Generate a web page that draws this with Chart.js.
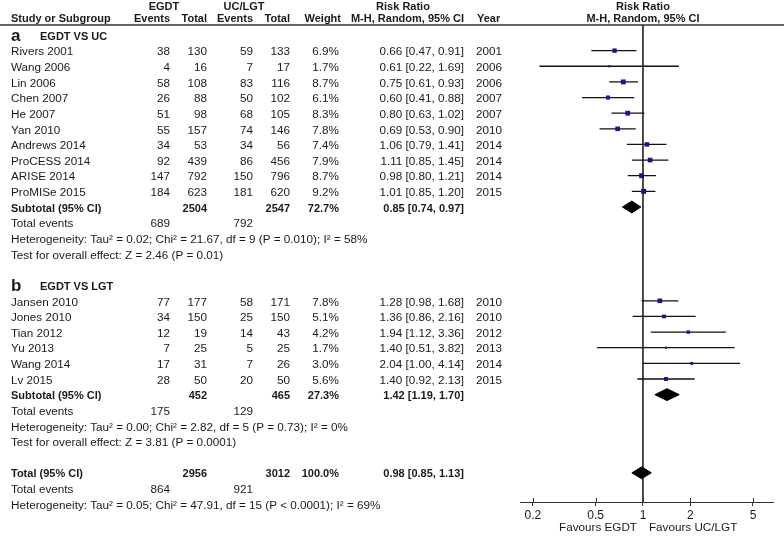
<!DOCTYPE html>
<html>
<head>
<meta charset="utf-8">
<script src="https://cdn.jsdelivr.net/npm/chart.js@4.4.1/dist/chart.umd.min.js"></script>
<style>
  html, body { margin: 0; padding: 0; background: #fff; }
  #wrap { position: relative; width: 784px; height: 536px; }
</style>
</head>
<body>
<div id="wrap"><canvas id="forest"></canvas></div>
<script>
// subgroup a: EGDT vs usual care
const studyA = ["Rivers 2001", "Wang 2006", "Lin 2006", "Chen 2007", "He 2007", "Yan 2010", "Andrews 2014", "ProCESS 2014", "ARISE 2014", "ProMISe 2015"];
const eventsA = [38, 4, 58, 26, 51, 55, 34, 92, 147, 184];
const totalA = [130, 16, 108, 88, 98, 157, 53, 439, 792, 623];
const ctrlEventsA = [59, 7, 83, 50, 68, 74, 34, 86, 150, 181];
const ctrlTotalA = [133, 17, 116, 102, 105, 146, 56, 456, 796, 620];
const weightA = [6.9, 1.7, 8.7, 6.1, 8.3, 7.8, 7.4, 7.9, 8.7, 9.2];
const rrA = [0.66, 0.61, 0.75, 0.60, 0.80, 0.69, 1.06, 1.11, 0.98, 1.01];
const loA = [0.47, 0.22, 0.61, 0.41, 0.63, 0.53, 0.79, 0.85, 0.80, 0.85];
const hiA = [0.91, 1.69, 0.93, 0.88, 1.02, 0.90, 1.41, 1.45, 1.21, 1.20];
const yearA = [2001, 2006, 2006, 2007, 2007, 2010, 2014, 2014, 2014, 2015];

// subgroup b: EGDT vs lactate-guided therapy
const studyB = ["Jansen 2010", "Jones 2010", "Tian 2012", "Yu 2013", "Wang 2014", "Lv 2015"];
const eventsB = [77, 34, 12, 7, 17, 28];
const totalB = [177, 150, 19, 25, 31, 50];
const ctrlEventsB = [58, 25, 14, 5, 7, 20];
const ctrlTotalB = [171, 150, 43, 25, 26, 50];
const weightB = [7.8, 5.1, 4.2, 1.7, 3.0, 5.6];
const rrB = [1.28, 1.36, 1.94, 1.40, 2.04, 1.40];
const loB = [0.98, 0.86, 1.12, 0.51, 1.00, 0.92];
const hiB = [1.68, 2.16, 3.36, 3.82, 4.14, 2.13];
const yearB = [2010, 2010, 2012, 2013, 2014, 2015];

// pooled estimates: subtotal a, subtotal b, overall
const pooledLabel = ["Subtotal (95% CI)", "Subtotal (95% CI)", "Total (95% CI)"];
const pooledTotal = [2504, 452, 2956];
const pooledCtrlTotal = [2547, 465, 3012];
const pooledWeight = ["72.7%", "27.3%", "100.0%"];
const pooledRR = [0.85, 1.42, 0.98];
const pooledLo = [0.74, 1.19, 0.85];
const pooledHi = [0.97, 1.70, 1.13];
const pooledEvents = [689, 175, 864];
const pooledCtrlEvents = [792, 129, 921];
const heterogeneity = [
  "Heterogeneity: Tau\u00B2 = 0.02; Chi\u00B2 = 21.67, df = 9 (P = 0.010); I\u00B2 = 58%",
  "Heterogeneity: Tau\u00B2 = 0.00; Chi\u00B2 = 2.82, df = 5 (P = 0.73); I\u00B2 = 0%",
  "Heterogeneity: Tau\u00B2 = 0.05; Chi\u00B2 = 47.91, df = 15 (P < 0.0001); I\u00B2 = 69%"
];
const overallTest = ["Test for overall effect: Z = 2.46 (P = 0.01)", "Test for overall effect: Z = 3.81 (P = 0.0001)"];

const xTicks = [0.2, 0.5, 1, 2, 5];

// row layout (one row per text line)
const rowA0 = 1, rowB0 = 17;
const pooledRow = [11, 23, 28];
const FONT = '"Liberation Sans", Arial, sans-serif';
const INK = "#1a1a1a";

const fmt = (v) => v.toFixed(2);
const ciText = (r, l, h) => `${fmt(r)} [${fmt(l)}, ${fmt(h)}]`;

function studyPoints(rr, row0) {
  return rr.map((v, k) => ({ x: v, y: row0 + k }));
}
function whiskers(lo, hi, row0) {
  const out = [];
  lo.forEach((l, k) => {
    out.push({ x: l, y: row0 + k }, { x: hi[k], y: row0 + k }, { x: null, y: null });
  });
  return out;
}
function diamond(k) {
  const r = pooledRow[k], h = 0.38;
  return [
    { x: pooledLo[k], y: r }, { x: pooledRR[k], y: r - h },
    { x: pooledHi[k], y: r }, { x: pooledRR[k], y: r + h }, { x: pooledLo[k], y: r }
  ];
}

const textPlugin = {
  id: "forestText",
  afterDraw(chart) {
    const ctx = chart.ctx;
    const yS = chart.scales.y, xS = chart.scales.x;
    const yy = (i) => yS.getPixelForValue(i) + 1.5;
    const put = (s, x, y, align, font) => {
      ctx.font = font; ctx.textAlign = align; ctx.fillText(String(s), x, y);
    };
    const reg = "11.7px " + FONT, bold = "bold 11px " + FONT;
    ctx.save();
    ctx.fillStyle = INK;
    ctx.textBaseline = "middle";

    // column headings
    put("EGDT", 164, 7, "center", bold);
    put("UC/LGT", 244, 7, "center", bold);
    put("Risk Ratio", 403, 7, "center", bold);
    put("Risk Ratio", xS.getPixelForValue(1), 7, "center", bold);
    const hy = 19;
    put("Study or Subgroup", 11, hy, "left", bold);
    put("Events", 170, hy, "right", bold);
    put("Total", 207, hy, "right", bold);
    put("Events", 253, hy, "right", bold);
    put("Total", 290, hy, "right", bold);
    put("Weight", 341, hy, "right", bold);
    put("M-H, Random, 95% CI", 464, hy, "right", bold);
    put("Year", 477, hy, "left", bold);
    put("M-H, Random, 95% CI", xS.getPixelForValue(1), hy, "center", bold);

    // subgroup titles
    put("a", 11, yy(0), "left", "bold 17px " + FONT);
    put("EGDT VS UC", 40, yy(0), "left", bold);
    put("b", 11, yy(16), "left", "bold 17px " + FONT);
    put("EGDT VS LGT", 40, yy(16), "left", bold);

    const groups = [
      [studyA, eventsA, totalA, ctrlEventsA, ctrlTotalA, weightA, rrA, loA, hiA, yearA, rowA0],
      [studyB, eventsB, totalB, ctrlEventsB, ctrlTotalB, weightB, rrB, loB, hiB, yearB, rowB0]
    ];
    groups.forEach(([names, ev, tot, cev, ctot, w, rr, lo, hi, yr, row0]) => {
      names.forEach((n, k) => {
        const y = yy(row0 + k);
        put(n, 11, y, "left", reg);
        put(ev[k], 170, y, "right", reg);
        put(tot[k], 207, y, "right", reg);
        put(cev[k], 253, y, "right", reg);
        put(ctot[k], 290, y, "right", reg);
        put(w[k].toFixed(1) + "%", 339, y, "right", reg);
        put(ciText(rr[k], lo[k], hi[k]), 464, y, "right", reg);
        put(yr[k], 476, y, "left", reg);
      });
    });

    pooledRow.forEach((r, k) => {
      let y = yy(r);
      put(pooledLabel[k], 11, y, "left", bold);
      put(pooledTotal[k], 207, y, "right", bold);
      put(pooledCtrlTotal[k], 290, y, "right", bold);
      put(pooledWeight[k], 339, y, "right", bold);
      put(ciText(pooledRR[k], pooledLo[k], pooledHi[k]), 464, y, "right", bold);
      y = yy(r + 1);
      put("Total events", 11, y, "left", reg);
      put(pooledEvents[k], 170, y, "right", reg);
      put(pooledCtrlEvents[k], 253, y, "right", reg);
      put(heterogeneity[k], 11, yy(r + 2), "left", reg);
      if (overallTest[k]) put(overallTest[k], 11, yy(r + 3), "left", reg);
    });

    // favours labels under the axis
    const x1 = xS.getPixelForValue(1);
    put("Favours EGDT", x1 - 6, 528, "right", reg);
    put("Favours UC/LGT", x1 + 6, 528, "left", reg);

    // heading rule across the page
    ctx.strokeStyle = "#333";
    ctx.lineWidth = 1.5;
    ctx.beginPath();
    ctx.moveTo(0, 25); ctx.lineTo(chart.width, 25);
    ctx.stroke();

    // tick marks also reach above the axis line
    ctx.lineWidth = 1;
    ctx.beginPath();
    xTicks.forEach((t) => {
      const px = Math.round(xS.getPixelForValue(t)) + 0.5;
      ctx.moveTo(px, chart.chartArea.bottom - 4);
      ctx.lineTo(px, chart.chartArea.bottom);
    });
    ctx.stroke();
    ctx.restore();
  }
};

const yMin = -0.638, yMax = 29.866;

new Chart(document.getElementById("forest"), {
  type: "scatter",
  data: {
    datasets: [
      {
        label: "no effect",
        data: [{ x: 1, y: yMin }, { x: 1, y: yMax }],
        showLine: true, borderColor: "#333", borderWidth: 1, pointRadius: 0, order: 4
      },
      {
        label: "95% CI",
        data: whiskers(loA, hiA, rowA0).concat(whiskers(loB, hiB, rowB0)),
        showLine: true, spanGaps: false, borderColor: "#111", borderWidth: 1.3, pointRadius: 0, order: 3
      },
      {
        label: "Risk ratio",
        data: studyPoints(rrA, rowA0).concat(studyPoints(rrB, rowB0)),
        pointStyle: "rect",
        pointRadius: weightA.concat(weightB).map((w) => 1.17 * Math.sqrt(w)),
        backgroundColor: "#16168a", borderWidth: 0, order: 1
      },
      ...[0, 1, 2].map((k) => ({
        label: pooledLabel[k],
        data: diamond(k),
        showLine: true, fill: "shape", backgroundColor: "#000", borderColor: "#000",
        borderWidth: 1, pointRadius: 0, tension: 0, order: 2
      }))
    ]
  },
  options: {
    responsive: true,
    maintainAspectRatio: false,
    animation: false,
    layout: { padding: { left: 520, right: 11, top: 25, bottom: 11.6 } },
    plugins: { legend: { display: false }, tooltip: { enabled: false } },
    scales: {
      y: { type: "linear", display: false, reverse: true, min: yMin, max: yMax },
      x: {
        type: "logarithmic",
        min: 0.1655,
        max: 6.7,
        afterBuildTicks: (axis) => { axis.ticks = xTicks.map((v) => ({ value: v })); },
        ticks: {
          color: INK, font: { family: FONT, size: 12 }, padding: 2,
          autoSkip: false, maxRotation: 0,
          callback: (v) => String(v)
        },
        grid: { drawOnChartArea: false, tickLength: 4, color: "#333" },
        border: { color: "#333", width: 1 }
      }
    }
  },
  plugins: [textPlugin]
});
</script>
</body>
</html>
